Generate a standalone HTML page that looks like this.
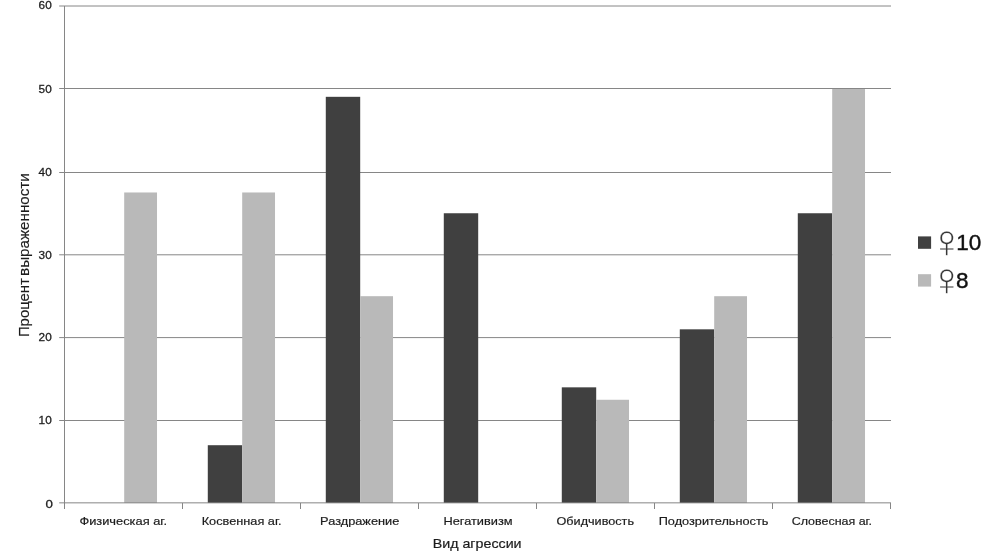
<!DOCTYPE html>
<html lang="ru"><head><meta charset="utf-8"><title>Вид агрессии</title>
<style>html,body{margin:0;padding:0;background:#fff}body{width:991px;height:558px;overflow:hidden}</style>
</head><body>
<svg width="991" height="558" viewBox="0 0 991 558" style="display:block">
<rect width="991" height="558" fill="#fff"/>
<g stroke="#868686" stroke-width="1" fill="none"><line x1="59.2" x2="891.0" y1="420.50" y2="420.50"/><line x1="59.2" x2="891.0" y1="337.60" y2="337.60"/><line x1="59.2" x2="891.0" y1="254.80" y2="254.80"/><line x1="59.2" x2="891.0" y1="172.50" y2="172.50"/><line x1="59.2" x2="891.0" y1="88.50" y2="88.50"/><line x1="59.2" x2="891.0" y1="6.00" y2="6.00"/></g>
<g><rect x="124.20" y="192.47" width="32.81" height="310.52" fill="#b9b9b9"/><rect x="207.79" y="445.21" width="34.41" height="57.79" fill="#404040"/><rect x="242.20" y="192.47" width="32.81" height="310.52" fill="#b9b9b9"/><rect x="325.79" y="96.82" width="34.41" height="406.18" fill="#404040"/><rect x="360.20" y="296.20" width="32.81" height="206.80" fill="#b9b9b9"/><rect x="443.79" y="213.25" width="34.41" height="289.75" fill="#404040"/><rect x="561.79" y="387.34" width="34.41" height="115.66" fill="#404040"/><rect x="596.20" y="399.77" width="32.81" height="103.23" fill="#b9b9b9"/><rect x="679.79" y="329.32" width="34.41" height="173.68" fill="#404040"/><rect x="714.20" y="296.20" width="32.81" height="206.80" fill="#b9b9b9"/><rect x="797.79" y="213.25" width="34.41" height="289.75" fill="#404040"/><rect x="832.20" y="89.00" width="32.81" height="414.00" fill="#b9b9b9"/></g>
<g stroke="#868686" stroke-width="1" fill="none"><line x1="64.5" x2="64.5" y1="6.0" y2="509.0"/><line x1="59.2" x2="891.0" y1="502.85" y2="502.85"/><line x1="182.50" x2="182.50" y1="503.0" y2="509.0"/><line x1="300.50" x2="300.50" y1="503.0" y2="509.0"/><line x1="418.50" x2="418.50" y1="503.0" y2="509.0"/><line x1="536.50" x2="536.50" y1="503.0" y2="509.0"/><line x1="654.50" x2="654.50" y1="503.0" y2="509.0"/><line x1="772.50" x2="772.50" y1="503.0" y2="509.0"/><line x1="890.50" x2="890.50" y1="503.0" y2="509.0"/></g>
<g font-family="'Liberation Sans', sans-serif" font-size="11.5" fill="#1c1c1c" stroke="#1c1c1c" stroke-width="0.28"><text x="52.9" y="507.8" text-anchor="end" textLength="7.4" lengthAdjust="spacingAndGlyphs">0</text><text x="51.7" y="423.8" text-anchor="end" textLength="13.1" lengthAdjust="spacingAndGlyphs">10</text><text x="51.7" y="341.4" text-anchor="end" textLength="13.1" lengthAdjust="spacingAndGlyphs">20</text><text x="51.7" y="258.6" text-anchor="end" textLength="13.1" lengthAdjust="spacingAndGlyphs">30</text><text x="51.7" y="175.6" text-anchor="end" textLength="13.1" lengthAdjust="spacingAndGlyphs">40</text><text x="51.7" y="93.3" text-anchor="end" textLength="13.1" lengthAdjust="spacingAndGlyphs">50</text><text x="51.7" y="9.2" text-anchor="end" textLength="13.1" lengthAdjust="spacingAndGlyphs">60</text></g>
<g font-family="'Liberation Sans', sans-serif" font-size="11" fill="#1c1c1c" stroke="#1c1c1c" stroke-width="0.18"><text x="79.4" y="524.7" textLength="87.6" lengthAdjust="spacingAndGlyphs">Физическая аг.</text><text x="201.7" y="524.7" textLength="79.9" lengthAdjust="spacingAndGlyphs">Косвенная аг.</text><text x="320.1" y="524.7" textLength="79.2" lengthAdjust="spacingAndGlyphs">Раздражение</text><text x="443.4" y="524.7" textLength="69.2" lengthAdjust="spacingAndGlyphs">Негативизм</text><text x="556.5" y="524.7" textLength="77.5" lengthAdjust="spacingAndGlyphs">Обидчивость</text><text x="658.7" y="524.7" textLength="109.7" lengthAdjust="spacingAndGlyphs">Подозрительность</text><text x="791.7" y="524.7" textLength="80.4" lengthAdjust="spacingAndGlyphs">Словесная аг.</text></g>
<text font-family="'Liberation Sans', sans-serif" font-size="12.6" fill="#1c1c1c" stroke="#1c1c1c" stroke-width="0.2" x="432.7" y="547.7" textLength="88.9" lengthAdjust="spacingAndGlyphs">Вид агрессии</text>
<g font-family="'Liberation Sans', sans-serif" font-size="14.5" fill="#1c1c1c" stroke="#1c1c1c" stroke-width="0.15"><text transform="translate(29.2,337.1) rotate(-90)" textLength="59.0" lengthAdjust="spacingAndGlyphs">Процент</text><text transform="translate(29.2,275.9) rotate(-90)" textLength="102.6" lengthAdjust="spacingAndGlyphs">выраженности</text></g>
<rect x="918" y="236.4" width="13.1" height="12.4" fill="#404040"/><rect x="918" y="274.2" width="13.1" height="12.4" fill="#b9b9b9"/>
<g fill="#111"><text font-family="'WenQuanYi Zen Hei', 'DejaVu Sans', sans-serif" font-size="30" fill="#383838" stroke="#fff" stroke-width="0.2" x="931.7" y="254.3">♀</text><text font-family="'Liberation Sans', sans-serif" font-size="22.5" stroke="#111" stroke-width="0.4" x="956.3" y="250.2">10</text><text font-family="'WenQuanYi Zen Hei', 'DejaVu Sans', sans-serif" font-size="30" fill="#383838" stroke="#fff" stroke-width="0.2" x="931.7" y="292.3">♀</text><text font-family="'Liberation Sans', sans-serif" font-size="22.5" stroke="#111" stroke-width="0.4" x="955.9" y="288.2">8</text></g>
</svg>
</body></html>
